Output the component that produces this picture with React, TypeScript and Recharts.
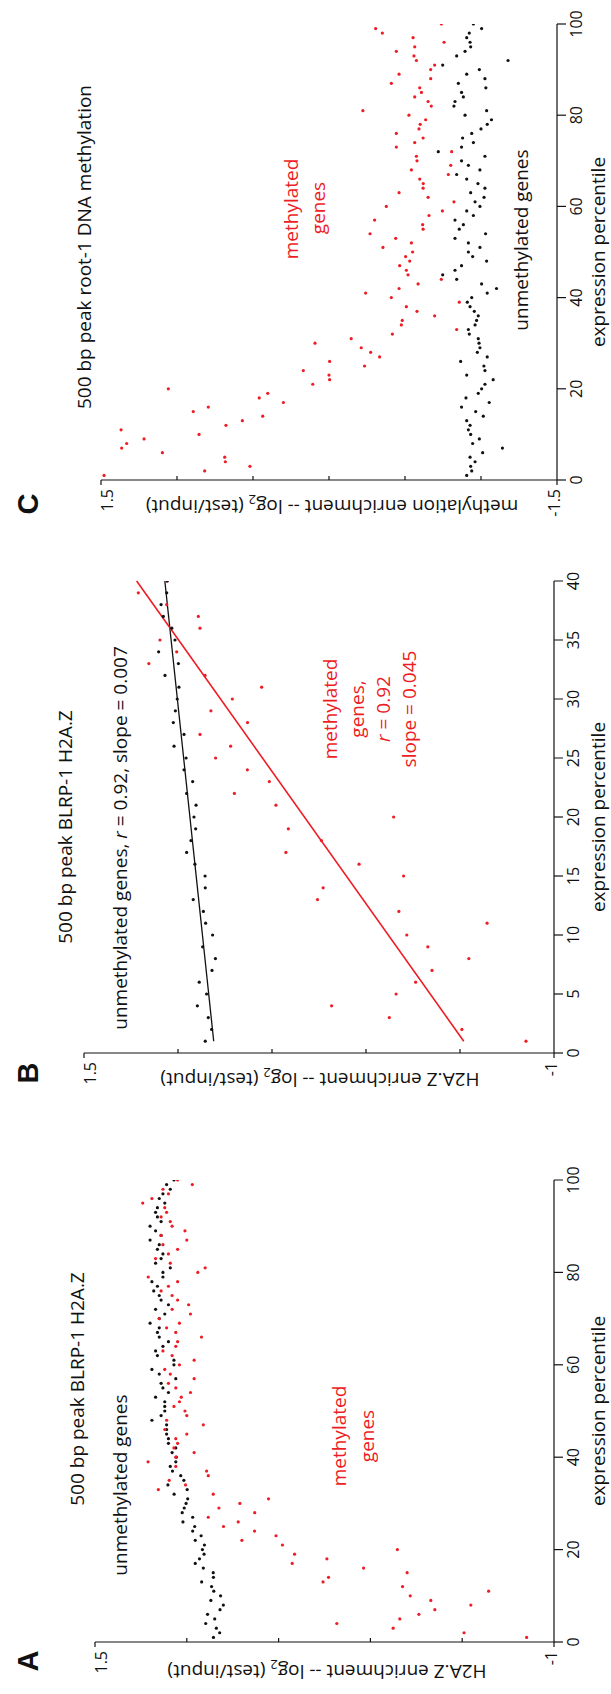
import React from 'react'
import { ScatterChart, Scatter, XAxis, YAxis, ReferenceLine } from 'recharts'

// H2A.Z enrichment per expression percentile (1..100), unmethylated / methylated genes
const h2azUnmethylated = [
  0.855, 0.821, 0.839, 0.897, 0.848, 0.887, 0.819, 0.801, 0.869, 0.816,
  0.853, 0.865, 0.919, 0.855, 0.856, 0.91, 0.954, 0.931, 0.906, 0.915,
  0.904, 0.954, 0.922, 0.968, 0.957, 1.021, 0.968, 1.025, 1.014, 1.004,
  0.995, 1.069, 0.998, 1.103, 1.016, 1.033, 1.078, 1.09, 1.06, 1.057,
  1.08, 1.06, 1.1, 1.1, 1.11, 1.11, 1.11, 1.19, 1.14, 1.12,
  1.12, 1.12, 1.17, 1.1, 1.13, 1.14, 1.06, 1.15, 1.19, 1.07,
  1.07, 1.16, 1.17, 1.13, 1.1, 1.15, 1.16, 1.15, 1.2, 1.15,
  1.12, 1.17, 1.1, 1.14, 1.15, 1.18, 1.16, 1.19, 1.13, 1.13,
  1.09, 1.17, 1.14, 1.13, 1.16, 1.15, 1.2, 1.14, 1.17, 1.2,
  1.14, 1.16, 1.17, 1.16, 1.12, 1.15, 1.13, 1.09, 1.11, 1.07,
]
const h2azMethylated = [
  -0.851, -0.51, -0.124, 0.183, -0.16, -0.264, -0.351, -0.547, -0.329, -0.217,
  -0.644, -0.175, 0.258, 0.228, -0.2, 0.037, 0.426, 0.237, 0.413, -0.147,
  0.479, 0.7, 0.514, 0.631, 0.8, 0.72, 0.883, 0.63, 0.825, 0.711,
  0.555, 0.856, 1.155, 1.007, 1.096, 0.883, 0.892, 1.06, 1.211, 1.06,
  0.96, 1.07, 1.05, 1.06, 1.0, 1.12, 0.91, 1.11, 1.0, 1.01,
  1.07, 1.04, 1.03, 0.98, 1.06, 1.1, 0.96, 1.09, 1.12, 1.04,
  0.96, 1.08, 1.13, 1.06, 1.05, 0.92, 1.06, 1.11, 1.04, 1.15,
  0.98, 1.08, 0.99, 1.05, 1.08, 1.14, 1.1, 1.05, 1.21, 0.94,
  0.9, 1.09, 1.17, 1.1, 1.05, 1.13, 1.0, 1.14, 1.01, 1.08,
  1.09, 1.14, 1.11, 1.12, 1.24, 1.19, 1.1, 1.13, 0.97, 1.05,
]

// DNA methylation enrichment per expression percentile (1..100)
const dnaUnmethylated = [
  -0.906, -0.939, -0.932, -0.961, -0.928, -1.011, -1.141, -0.945, -0.989, -0.932,
  -0.917, -0.928, -0.906, -1.015, -0.965, -0.872, -1.054, -0.901, -0.982, -1.004,
  -1.026, -1.08, -0.906, -1.026, -1.019, -0.866, -1.041, -0.976, -0.993, -0.987,
  -0.982, -0.923, -0.917, -0.961, -0.971, -0.982, -0.956, -0.928, -0.91, -0.939,
  -1.041, -1.102, -1.004, -0.84, -0.748, -0.829, -0.872, -1.037, -0.945, -0.917,
  -0.993, -0.917, -0.829, -1.03, -0.857, -0.884, -0.829, -0.95, -0.906, -0.993,
  -0.961, -1.02, -0.932, -1.026, -0.98, -0.906, -0.84, -0.993, -0.917, -0.872,
  -1.026, -0.719, -0.872, -0.95, -0.879, -0.939, -1.0, -1.041, -1.069, -0.895,
  -1.037, -0.822, -0.829, -0.884, -0.872, -1.032, -0.851, -1.026, -0.906, -0.989,
  -0.748, -1.178, -0.84, -0.895, -0.932, -0.928, -0.906, -0.923, -1.004, -0.95,
]
const dnaMethylated = [
  1.48, 0.818, 0.52, 0.682, 0.686, 1.096, 1.364, 1.331, 1.217, 0.855,
  1.368, 0.678, 0.57, 0.436, 0.893, 0.794, 0.3, 0.459, 0.403, 1.057,
  0.107, -0.004, 0.0, 0.169, -0.234, -0.004, -0.333, -0.274, -0.212, 0.092,
  -0.146, -0.417, -0.84, -0.476, -0.482, -0.695, -0.579, -0.509, -0.857, -0.41,
  -0.241, -0.461, -0.586, -0.739, -0.52, -0.509, -0.465, -0.531, -0.504, -0.55,
  -0.355, -0.542, -0.439, -0.27, -0.619, -0.616, -0.3, -0.658, -0.746, -0.377,
  -0.822, -0.652, -0.461, -0.619, -0.62, -0.597, -0.785, -0.542, -0.801, -0.579,
  -0.575, -0.807, -0.443, -0.564, -0.619, -0.443, -0.592, -0.6, -0.636, -0.526,
  -0.223, -0.673, -0.652, -0.564, -0.608, -0.597, -0.41, -0.669, -0.461, -0.669,
  -0.695, -0.575, -0.559, -0.443, -0.564, -0.757, -0.553, -0.351, -0.307, -0.739,
]

// linear fits for panel B (percentile 1..40)
const fitUnmethylatedB = [{ p: 1, v: 0.81 }, { p: 40, v: 1.07 }]
const fitMethylatedB = [{ p: 1, v: -0.52 }, { p: 40, v: 1.22 }]

const percentileTicks = [0, 20, 40, 60, 80, 100]
const percentileTicksB = [0, 5, 10, 15, 20, 25, 30, 35, 40]
const h2azTicks = [-1, -0.5, 0, 0.5, 1, 1.5]
const dnaTicks = [-1.5, -1, -0.5, 0, 0.5, 1, 1.5]

const FONT = '"Open Sans", "Noto Sans", sans-serif'
const RED = '#ee1c24'
const INK = '#111'
const H = 611

const toPoints = (vals: number[]) => vals.map((v, i) => ({ p: i + 1, v }))

const dot = (color: string) => (props: any) =>
  props.cx == null ? <g /> : <circle cx={props.cx} cy={props.cy} r={1.6} fill={color} />

const xTick = (props: any) => {
  const { x, y, payload } = props
  return (
    <g>
      <line x1={x} x2={x} y1={y} y2={y + 9} stroke={INK} strokeWidth={1.2} />
      <text x={x} y={y + 25} textAnchor="middle" fontSize={16} fontFamily={FONT} fill={INK}>
        {payload.value}
      </text>
    </g>
  )
}

const yTick = (top: number, bottom: number) => (props: any) => {
  const { x, y, payload } = props
  const v = payload.value
  if (v === top || v === bottom) {
    return (
      <g>
        <line x1={x} x2={x - 5} y1={y} y2={y} stroke={INK} strokeWidth={1.2} />
        <text x={x - 9} y={v === top ? y + 12 : y + 3} textAnchor="end" fontSize={16} fontFamily={FONT} fill={INK}>
          {String(v)}
        </text>
      </g>
    )
  }
  return <line x1={x} x2={x + 4} y1={y} y2={y} stroke={INK} strokeWidth={1.2} />
}

interface PanelProps {
  left: number
  width: number
  plotLeft: number
  plotRight: number
  plotTop: number
  plotBottom: number
  xMax: number
  xTicks: number[]
  yTicks: number[]
  first: { data: { p: number; v: number }[]; color: string }
  second: { data: { p: number; v: number }[]; color: string }
  children?: React.ReactNode
}

const Panel: React.FC<PanelProps> = ({ left, width, plotLeft, plotRight, plotTop, plotBottom, xMax, xTicks, yTicks, first, second, children }) => {
  const yMin = yTicks[0]
  const yMax = yTicks[yTicks.length - 1]
  const axisStyle = { stroke: INK, strokeWidth: 1.2 }
  return (
    <div style={{ position: 'absolute', left, top: 0 }}>
      <ScatterChart width={width} height={H} margin={{ top: plotTop, right: left + width - plotRight, bottom: 0, left: 0 }}>
        <XAxis type="number" dataKey="p" domain={[0, xMax]} ticks={xTicks} interval={0} allowDataOverflow
          height={H - plotBottom} tickSize={0} tickMargin={0} tickLine={false} axisLine={axisStyle} tick={xTick} />
        <YAxis type="number" dataKey="v" domain={[yMin, yMax]} ticks={yTicks} interval={0} allowDataOverflow
          width={plotLeft - left} tickSize={0} tickMargin={0} tickLine={false} axisLine={axisStyle} tick={yTick(yMax, yMin)} />
        <Scatter data={first.data} fill={first.color} shape={dot(first.color)} isAnimationActive={false} />
        <Scatter data={second.data} fill={second.color} shape={dot(second.color)} isAnimationActive={false} />
        {children}
      </ScatterChart>
    </div>
  )
}

const YLabel: React.FC<{ x: number; y: number; lead: string }> = ({ x, y, lead }) => (
  <text transform={`translate(${x},${y}) rotate(-90)`} textAnchor="middle" fontSize={19} fontFamily={FONT} fill={INK}>
    {lead} enrichment -- log<tspan fontSize={13} dy={5}>2</tspan>
    <tspan dy={-5}> (test/input)</tspan>
  </text>
)

const App: React.FC = () => {
  const t = { fontSize: 19, fontFamily: FONT, fill: INK, textAnchor: 'middle' as const }
  const red = { ...t, fill: RED }
  const letter = { fontSize: 29, fontFamily: '"Liberation Sans", Arial, sans-serif', fontWeight: 700, fill: INK, textAnchor: 'middle' as const }
  return (
    <div style={{ position: 'absolute', left: 0, top: 0, width: 611, height: 1694, overflow: 'hidden', background: '#fff' }}>
      <div style={{ position: 'absolute', left: 0, top: 0, width: 1694, height: H, transformOrigin: '0 0', transform: 'translateY(1694px) rotate(-90deg)' }}>
        <Panel left={0} width={560} plotLeft={52} plotRight={514} plotTop={95} plotBottom={554}
          xMax={100} xTicks={percentileTicks} yTicks={h2azTicks}
          first={{ data: toPoints(h2azUnmethylated), color: INK }}
          second={{ data: toPoints(h2azMethylated), color: RED }} />
        <Panel left={589} width={560} plotLeft={641} plotRight={1113} plotTop={84} plotBottom={554}
          xMax={40} xTicks={percentileTicksB} yTicks={h2azTicks}
          first={{ data: toPoints(h2azMethylated.slice(0, 40)), color: RED }}
          second={{ data: toPoints(h2azUnmethylated.slice(0, 40)), color: INK }}>
          <ReferenceLine segment={fitUnmethylatedB.map((d) => ({ x: d.p, y: d.v }))} stroke={INK} strokeWidth={1.3} ifOverflow="visible" />
          <ReferenceLine segment={fitMethylatedB.map((d) => ({ x: d.p, y: d.v }))} stroke={RED} strokeWidth={1.6} ifOverflow="visible" />
        </Panel>
        <Panel left={1162} width={532} plotLeft={1214} plotRight={1670} plotTop={101} plotBottom={557}
          xMax={100} xTicks={percentileTicks} yTicks={dnaTicks}
          first={{ data: toPoints(dnaUnmethylated), color: INK }}
          second={{ data: toPoints(dnaMethylated), color: RED }} />

        <svg width={1694} height={H} style={{ position: 'absolute', left: 0, top: 0, pointerEvents: 'none' }}>
          {/* panel A */}
          <text x={33} y={38} {...letter}>A</text>
          <text x={305} y={84} {...t}>500 bp peak BLRP-1 H2A.Z</text>
          <text x={209} y={127} {...t}>unmethylated genes</text>
          <text x={258} y={346} {...red}>methylated</text>
          <text x={258} y={374} {...red}>genes</text>
          <YLabel x={29} y={327} lead="H2A.Z" />
          <text x={283} y={605} {...t}>expression percentile</text>

          {/* panel B */}
          <text x={621} y={38} {...letter}>B</text>
          <text x={867} y={72} {...t}>500 bp peak BLRP-1 H2A.Z</text>
          <text x={856} y={127} {...t}>
            unmethylated genes, <tspan fontStyle="italic">r</tspan> = 0.92, slope = 0.007
          </text>
          <text x={985} y={337} {...red}>methylated</text>
          <text x={985} y={364} {...red}>genes,</text>
          <text x={985} y={390} {...red}><tspan fontStyle="italic">r</tspan> = 0.92</text>
          <text x={985} y={416} {...red}>slope = 0.045</text>
          <YLabel x={621} y={320} lead="H2A.Z" />
          <text x={877} y={605} {...t}>expression percentile</text>

          {/* panel C */}
          <text x={1190} y={38} {...letter}>C</text>
          <text x={1447} y={91} {...t}>500 bp peak root-1 DNA methylation</text>
          <text x={1485} y={298} {...red}>methylated</text>
          <text x={1486} y={325} {...red}>genes</text>
          <text x={1454} y={528} {...t}>unmethylated genes</text>
          <YLabel x={1194} y={332} lead="methylation" />
          <text x={1442} y={605} {...t}>expression percentile</text>
        </svg>
      </div>
    </div>
  )
}

export default App
